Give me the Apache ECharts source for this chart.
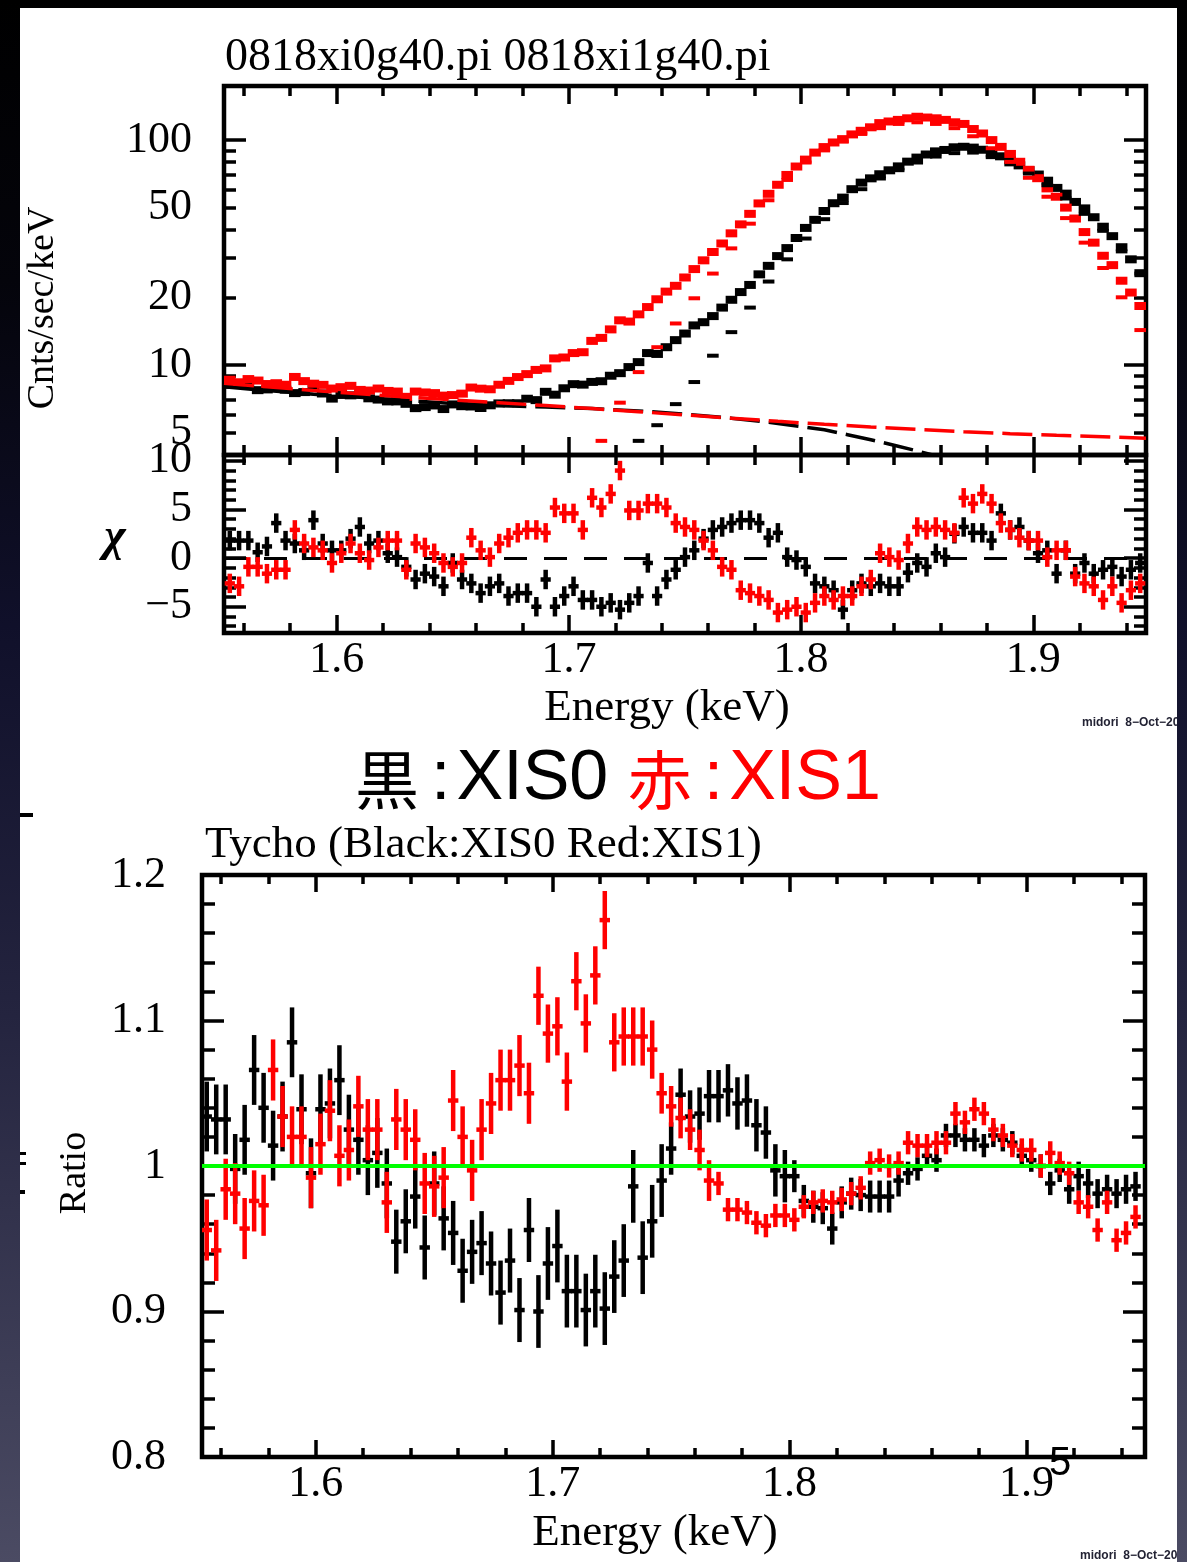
<!DOCTYPE html>
<html><head><meta charset="utf-8">
<script src="https://cdn.jsdelivr.net/npm/echarts@6/dist/echarts.min.js"></script>
<style>
html,body{margin:0;padding:0;}
body{width:1187px;height:1562px;overflow:hidden;position:relative;
 background:linear-gradient(to bottom,#000 0%,#04040b 18%,#10102a 40%,#24243f 65%,#4b4b63 100%);}
#paper{position:absolute;left:20px;top:8px;width:1157px;height:1554px;background:#fff;}
#chart{position:absolute;left:0;top:0;width:1177px;height:1562px;}
</style></head><body><div id="paper"></div><div id="chart"></div>
<script>
// ---------------- data ----------------
const energy = [
 1.554,1.558,1.562,1.566,1.570,1.574,1.578,1.582,1.586,1.590,
 1.594,1.598,1.602,1.606,1.610,1.614,1.618,1.622,1.626,1.630,
 1.634,1.638,1.642,1.646,1.650,1.654,1.658,1.662,1.666,1.670,
 1.674,1.678,1.682,1.686,1.690,1.694,1.698,1.702,1.706,1.710,
 1.714,1.718,1.722,1.726,1.730,1.734,1.738,1.742,1.746,1.750,
 1.754,1.758,1.762,1.766,1.770,1.774,1.778,1.782,1.786,1.790,
 1.794,1.798,1.802,1.806,1.810,1.814,1.818,1.822,1.826,1.830,
 1.834,1.838,1.842,1.846,1.850,1.854,1.858,1.862,1.866,1.870,
 1.874,1.878,1.882,1.886,1.890,1.894,1.898,1.902,1.906,1.910,
 1.914,1.918,1.922,1.926,1.930,1.934,1.938,1.942,1.946];

// XIS0 (black)
const xis0Counts = [
 8.32,8.20,8.10,7.73,7.79,8.05,7.77,7.50,7.58,7.88,
 7.47,7.09,7.36,7.33,7.39,7.11,7.02,6.89,6.89,6.72,
 6.43,6.50,6.61,6.37,6.68,6.56,6.54,6.44,6.62,6.75,
 6.76,6.76,7.08,6.98,7.60,7.38,7.88,8.22,8.18,8.41,
 8.47,8.96,9.20,9.79,10.3,11.3,11.2,12.0,12.9,13.8,
 15.0,15.5,16.5,18.0,19.5,21.1,22.7,25.3,27.6,30.5,
 33.1,36.7,40.7,44.2,48.4,52.4,55.5,60.5,64.7,67.6,
 70.5,73.4,76.4,80.2,83.6,86.3,89.1,90.4,92.9,93.4,
 92.6,90.6,87.2,84.7,81.4,77.2,73.5,70.3,66.0,61.3,
 57.8,53.1,49.7,45.4,41.2,37.4,33.4,29.5,25.6];
const xis0Ratio = [
 1.034,1.032,1.032,0.998,1.018,1.066,1.040,1.014,1.034,1.085,
 1.039,0.995,1.039,1.043,1.059,1.025,1.018,1.004,1.009,0.988,
 0.948,0.962,0.979,0.944,0.988,0.964,0.954,0.928,0.941,0.947,
 0.933,0.913,0.935,0.901,0.956,0.900,0.933,0.945,0.914,0.914,
 0.901,0.914,0.902,0.924,0.935,0.986,0.937,0.962,0.990,1.012,
 1.049,1.034,1.036,1.048,1.048,1.052,1.043,1.045,1.028,1.023,
 0.997,0.993,0.993,0.976,0.972,0.971,0.957,0.975,0.981,0.980,
 0.979,0.979,0.979,0.990,0.995,0.998,1.007,1.004,1.021,1.021,
 1.018,1.018,1.014,1.021,1.018,1.016,1.007,1.004,1.000,0.988,
 0.997,0.984,0.993,0.988,0.981,0.984,0.981,0.984,0.986];
const xis0RatioErr = [
 0.024,0.024,0.024,0.024,0.024,0.024,0.024,0.024,0.024,0.024,
 0.024,0.024,0.024,0.024,0.024,0.024,0.024,0.024,0.024,0.024,
 0.022,0.022,0.022,0.022,0.022,0.022,0.022,0.022,0.022,0.022,
 0.022,0.022,0.022,0.022,0.022,0.025,0.025,0.025,0.025,0.025,
 0.025,0.025,0.025,0.025,0.025,0.025,0.025,0.025,0.025,0.018,
 0.018,0.018,0.018,0.018,0.018,0.018,0.018,0.018,0.018,0.018,
 0.018,0.018,0.011,0.011,0.011,0.011,0.011,0.011,0.011,0.011,
 0.011,0.011,0.011,0.011,0.008,0.008,0.008,0.008,0.008,0.008,
 0.008,0.008,0.008,0.008,0.008,0.008,0.008,0.008,0.008,0.008,
 0.008,0.010,0.010,0.010,0.010,0.010,0.010,0.010,0.010];
const xis0Chi = [
 1.8,1.8,1.8,0.6,1.2,3.6,1.8,1.5,0.8,3.9,
 1.5,0.8,0.8,2.0,3.2,1.5,1.8,0.5,0.1,-0.9,
 -2.2,-1.6,-1.9,-2.9,-0.5,-2.2,-2.6,-3.6,-2.9,-2.6,
 -3.9,-3.6,-3.6,-5.0,-2.2,-5.0,-3.9,-2.9,-4.3,-4.3,
 -5.0,-4.6,-5.3,-4.6,-3.9,-0.5,-3.9,-2.2,-1.2,0.1,
 0.8,2.0,2.9,3.2,3.6,3.9,3.9,3.6,2.1,2.6,
 0.1,-0.2,-0.9,-2.6,-2.9,-3.3,-5.3,-3.3,-2.6,-2.9,
 -2.6,-2.9,-2.9,-1.5,-0.5,-0.9,0.5,0.1,2.5,3.2,
 2.6,2.6,1.8,4.6,2.9,3.2,1.8,0.5,0.8,-1.6,
 0.8,-1.6,-0.5,-1.6,-1.2,-0.9,-1.9,-1.2,-0.5];

// XIS1 (red)
const xis1Counts = [
 8.60,8.38,8.66,8.53,8.23,8.30,8.17,8.85,8.48,8.26,
 8.16,7.86,7.97,8.08,7.75,7.70,7.86,7.67,7.62,7.22,
 7.62,7.55,7.50,7.31,7.35,7.46,7.94,7.85,7.80,8.17,
 8.50,8.84,9.11,9.51,9.66,10.7,10.8,11.3,11.4,12.8,
 13.2,14.4,15.8,15.6,16.8,18.1,19.6,21.2,22.5,24.5,
 26.7,29.2,31.8,34.7,38.5,42.2,47.0,52.3,57.7,63.3,
 70.0,76.3,81.9,88.0,93.1,97.6,101,106,110,114,
 119,121,123,125,127,126,125,123,120,118,
 112,107,100,93.3,86.8,80.1,73.8,67.7,61.0,56.0,
 50.1,44.8,39.0,35.0,30.6,27.8,23.7,21.0,18.3];
const xis1Ratio = [
 0.956,0.942,0.984,0.981,0.957,0.976,0.973,1.066,1.034,1.020,
 1.020,0.992,1.015,1.038,1.007,1.011,1.041,1.025,1.025,0.975,
 1.032,1.025,1.018,0.988,0.986,0.992,1.045,1.020,0.997,1.025,
 1.043,1.059,1.059,1.069,1.050,1.117,1.091,1.096,1.058,1.127,
 1.098,1.131,1.169,1.085,1.089,1.089,1.089,1.080,1.050,1.041,
 1.033,1.025,1.011,0.990,0.988,0.970,0.970,0.968,0.961,0.959,
 0.966,0.966,0.963,0.972,0.975,0.976,0.975,0.977,0.981,0.985,
 1.002,1.004,1.000,1.002,1.016,1.014,1.014,1.016,1.016,1.036,
 1.030,1.039,1.036,1.025,1.021,1.014,1.011,1.011,1.000,1.009,
 1.002,0.995,0.975,0.972,0.956,0.975,0.949,0.954,0.965];
const xis1RatioErr = [
 0.021,0.021,0.021,0.021,0.021,0.021,0.021,0.021,0.021,0.021,
 0.021,0.021,0.021,0.021,0.021,0.021,0.021,0.021,0.021,0.021,
 0.021,0.021,0.021,0.021,0.021,0.021,0.021,0.021,0.021,0.021,
 0.021,0.021,0.021,0.021,0.021,0.020,0.020,0.020,0.020,0.020,
 0.020,0.020,0.020,0.020,0.020,0.020,0.020,0.020,0.014,0.014,
 0.014,0.014,0.014,0.014,0.008,0.008,0.008,0.008,0.008,0.008,
 0.008,0.008,0.008,0.008,0.008,0.008,0.008,0.008,0.008,0.008,
 0.008,0.008,0.008,0.008,0.008,0.008,0.008,0.008,0.008,0.008,
 0.008,0.008,0.008,0.008,0.008,0.008,0.008,0.008,0.008,0.008,
 0.008,0.008,0.008,0.008,0.008,0.008,0.008,0.008,0.008];
const xis1Chi = [
 -2.6,-2.9,-0.9,-0.9,-1.6,-1.2,-1.2,2.9,1.5,1.1,
 0.8,-0.5,0.5,1.5,0.5,-0.2,1.1,1.8,1.8,-1.2,
 1.5,1.1,0.5,-0.5,-0.9,-0.5,2.1,0.8,0.1,1.5,
 2.1,2.6,2.9,2.9,2.6,5.2,4.6,4.6,2.9,6.2,
 5.2,6.6,9.0,4.9,4.9,5.6,5.6,5.2,3.6,3.2,
 2.9,1.8,0.8,-0.9,-1.2,-3.3,-3.6,-3.9,-4.3,-5.6,
 -5.3,-5.0,-5.6,-4.6,-3.9,-4.3,-3.9,-3.9,-2.9,-2.2,
 0.5,0.1,-0.2,1.5,3.2,2.9,3.2,2.9,2.6,6.2,
 5.6,6.6,5.6,3.6,2.9,2.1,1.8,1.8,0.1,0.8,
 0.8,-1.9,-2.6,-2.9,-4.3,-2.9,-4.6,-3.3,-2.6];

// model components (top panel)
const xis0ContE = [1.5515,1.57,1.59,1.61,1.63,1.65,1.67,1.69,1.71,1.73,1.75,1.77,1.79,1.81,1.82,1.83,1.84,1.85,1.86];
const xis0Cont  = [8.0,7.7,7.42,7.18,6.95,6.75,6.6,6.5,6.4,6.25,6.05,5.8,5.5,5.15,4.9,4.65,4.4,4.15,3.9];
const xis1ContE = [1.5515,1.57,1.59,1.61,1.63,1.65,1.67,1.69,1.71,1.73,1.75,1.77,1.79,1.81,1.83,1.85,1.87,1.89,1.91,1.93,1.9485];
const xis1Cont  = [8.3,8.0,7.7,7.45,7.2,7.0,6.8,6.6,6.4,6.2,6.0,5.8,5.62,5.45,5.3,5.17,5.05,4.95,4.87,4.8,4.72];
const compE = [1.690,1.698,1.706,1.714,1.722,1.730,1.738,1.746,1.754,1.762,1.770,1.778,1.786,1.794,1.802,1.810,1.818,
 1.826,1.834,1.842,1.850,1.858,1.866,1.874,1.882,1.890,1.898,1.906,1.914,1.922,1.930,1.938,1.946];
const xis0Line = [2.0,2.3,2.7,3.1,3.95,4.6,5.4,6.7,8.4,11.0,14.0,18.0,23.5,29.5,36.5,44.5,52.5,
 60.5,67.5,73.5,79.5,84.5,87.5,88,84,78,71,63,55,47,39.5,32,25.5];
const xis1Line = [2.5,3.0,3.7,4.6,6.8,9.3,12.0,15.3,19.8,25.5,33,42.5,54,66.5,79.5,90,98.5,
 106.5,113,118,120,118,113,104,92,80,68,56,45,35,27,20,14.3];

// ticks & labels
const xMajor = [1.6,1.7,1.8,1.9];
const xMinor = [1.56,1.58,1.62,1.64,1.66,1.68,1.72,1.74,1.76,1.78,1.82,1.84,1.86,1.88,1.92,1.94];
const logMajor = [10,100];
const logMinor = [4,5,6,7,8,9,20,30,40,50,60,70,80,90];
const logLabels = [5,10,20,50,100];
const chiMajor = [-5,0,5,10];
const chiMinor = [-7,-6,-4,-3,-2,-1,1,2,3,4,6,7,8,9];
const ratioMajor = [0.8,0.9,1,1.1,1.2];
const ratioMinor = [0.82,0.84,0.86,0.88,0.92,0.94,0.96,0.98,1.02,1.04,1.06,1.08,1.12,1.14,1.16,1.18];

const titleTop = '0818xi0g40.pi 0818xi1g40.pi';
const titleBottom = 'Tycho (Black:XIS0 Red:XIS1)';
const xName = 'Energy (keV)';
const yNameTop = 'Cnts/sec/keV';
const yNameChi = 'χ';
const yNameRatio = 'Ratio';
const stamp = 'midori  8−Oct−2008 15:42';
const pageNo = '5';

const BIN_HALF = 0.0022;  // half bin width (keV)
const CHI_ERR = 1;        // residual error bars are ±1σ
const BLACK = '#000000', RED = '#ff0000', GREEN = '#00ff00';
const SERIF = 'Liberation Serif';

// ---------------- helpers ----------------
const tickStyle = {color: '#000', width: 3.5};
function axisSet(kind, gi, type, min, max, majors, minors, majLen, minLen, label) {
  const sides = kind === 'x' ? ['bottom', 'top'] : ['left', 'right'];
  const out = [];
  sides.forEach((pos, si) => {
    [[majors, majLen], [minors, minLen]].forEach(([vals, len], mi) => {
      const ax = {
        type: type, gridIndex: gi, position: pos, min: min, max: max,
        axisLine: {show: false, onZero: false},
        splitLine: {show: false},
        axisTick: {show: true, inside: true, length: len, customValues: vals, lineStyle: tickStyle},
        axisLabel: {show: false}
      };
      if (type === 'log') ax.logBase = 10;
      if (si === 0 && mi === 0 && label) ax.axisLabel = Object.assign({show: true}, label);
      out.push(ax);
    });
  });
  return out;
}
function crossSeries(name, gi, data, color, lw, hw, z) {
  return {
    type: 'custom', name: name, xAxisIndex: gi * 4, yAxisIndex: gi * 4, z: z, clip: true,
    data: data, encode: {x: 0, y: 1}, silent: true,
    renderItem: function (params, api) {
      const e = api.value(0), v = api.value(1), err = api.value(2);
      const lo = api.coord([e, v - err]), hi = api.coord([e, v + err]);
      const l = api.coord([e - hw, v]), r = api.coord([e + hw, v]);
      const style = {stroke: color, lineWidth: lw};
      return {type: 'group', children: [
        {type: 'line', shape: {x1: lo[0], y1: lo[1], x2: hi[0], y2: hi[1]}, style: style},
        {type: 'line', shape: {x1: l[0], y1: l[1], x2: r[0], y2: r[1]}, style: style}
      ]};
    }
  };
}
function dashSeries(name, gi, xs, ys, color, z) {
  return {
    type: 'custom', name: name, xAxisIndex: gi * 4, yAxisIndex: gi * 4, z: z, clip: true, silent: true,
    data: xs.map((e, i) => [e, ys[i]]), encode: {x: 0, y: 1},
    renderItem: function (params, api) {
      const e = api.value(0), v = api.value(1);
      const l = api.coord([e - 0.0025, v]), r = api.coord([e + 0.0025, v]);
      return {type: 'line', shape: {x1: l[0], y1: l[1], x2: r[0], y2: r[1]}, style: {stroke: color, lineWidth: 4}};
    }
  };
}
function contSeries(name, gi, xs, ys, color, z) {
  return {
    type: 'line', name: name, xAxisIndex: gi * 4, yAxisIndex: gi * 4, z: z, silent: true,
    showSymbol: false, symbol: 'none', clip: true,
    data: xs.map((e, i) => [e, ys[i]]),
    lineStyle: {color: color, width: 3.5, type: [30, 9]}
  };
}

const topBlack = energy.map((e, i) => [e, xis0Counts[i], xis0Counts[i] * xis0RatioErr[i] / xis0Ratio[i]]);
const topRed   = energy.map((e, i) => [e, xis1Counts[i], xis1Counts[i] * xis1RatioErr[i] / xis1Ratio[i]]);
const chiBlack = energy.map((e, i) => [e, xis0Chi[i], CHI_ERR]);
const chiRed   = energy.map((e, i) => [e, xis1Chi[i], CHI_ERR]);
const ratBlack = energy.map((e, i) => [e, xis0Ratio[i], xis0RatioErr[i]]);
const ratRed   = energy.map((e, i) => [e, xis1Ratio[i], xis1RatioErr[i]]);

const lab = {fontFamily: SERIF, fontSize: 44, color: '#000'};
const minusFmt = v => (v < 0 ? '\u2212' + Math.abs(v) : String(v));

const gridBase = {show: true, borderColor: '#000', borderWidth: 4.5, backgroundColor: 'transparent', containLabel: false};

const option = {
  animation: false,
  backgroundColor: 'transparent',
  grid: [
    Object.assign({left: 224, top: 86, width: 922, height: 369}, gridBase),
    Object.assign({left: 224, top: 455, width: 922, height: 178}, gridBase),
    Object.assign({left: 202, top: 875, width: 943, height: 582}, gridBase)
  ],
  xAxis: [].concat(
    axisSet('x', 0, 'value', 1.5515, 1.9485, xMajor, xMinor, 18, 10, null),
    axisSet('x', 1, 'value', 1.5515, 1.9485, xMajor, xMinor, 18, 10,
      Object.assign({customValues: xMajor, margin: 5}, lab)),
    axisSet('x', 2, 'value', 1.552, 1.950, xMajor, xMinor, 17, 9,
      Object.assign({customValues: xMajor, margin: 5}, lab))
  ),
  yAxis: [].concat(
    axisSet('y', 0, 'log', 3.98, 174, logMajor, logMinor, 22, 12,
      Object.assign({customValues: logLabels, margin: 32}, lab)),
    axisSet('y', 1, 'value', -7.7, 10.6, chiMajor, chiMinor, 22, 12,
      Object.assign({customValues: chiMajor, margin: 32, formatter: minusFmt}, lab)),
    axisSet('y', 2, 'value', 0.8, 1.2, ratioMajor, ratioMinor, 22, 13,
      Object.assign({customValues: ratioMajor, margin: 36}, lab))
  ),
  series: [
    crossSeries('XIS0', 0, topBlack, BLACK, 8, 0.0025, 3),
    crossSeries('XIS1', 0, topRed, RED, 8, 0.0025, 4),
    contSeries('XIS0 continuum', 0, xis0ContE, xis0Cont, BLACK, 5),
    contSeries('XIS1 continuum', 0, xis1ContE, xis1Cont, RED, 6),
    dashSeries('XIS0 line', 0, compE, xis0Line, BLACK, 5),
    dashSeries('XIS1 line', 0, compE, xis1Line, RED, 6),
    {type: 'line', name: 'zero', xAxisIndex: 4, yAxisIndex: 4, data: [], z: 1, silent: true,
     markLine: {silent: true, symbol: 'none', z: 1, label: {show: false},
       lineStyle: {color: '#000', width: 3, type: [23, 17]}, data: [{yAxis: 0}]}},
    crossSeries('XIS0 chi', 1, chiBlack, BLACK, 4.5, BIN_HALF, 8),
    crossSeries('XIS1 chi', 1, chiRed, RED, 4.5, BIN_HALF, 9),
    crossSeries('XIS0 ratio', 2, ratBlack, BLACK, 4.5, BIN_HALF, 8),
    crossSeries('XIS1 ratio', 2, ratRed, RED, 4.5, BIN_HALF, 9),
    {type: 'line', name: 'unity', xAxisIndex: 8, yAxisIndex: 8, data: [], z: 20, silent: true,
     markLine: {silent: true, symbol: 'none', z: 20, label: {show: false},
       lineStyle: {color: GREEN, width: 4, type: 'solid'}, data: [{yAxis: 1}]}}
  ],
  graphic: [
    {type: 'text', x: 225, y: 58, style: {text: titleTop, font: '46px "Liberation Serif"', fill: '#000', align: 'left', verticalAlign: 'middle'}},
    {type: 'text', x: 667, y: 708, style: {text: xName, font: '45px "Liberation Serif"', fill: '#000', align: 'center', verticalAlign: 'middle'}},
    {type: 'text', x: 43, y: 308, rotation: Math.PI / 2, style: {text: yNameTop, font: '38px "Liberation Serif"', fill: '#000', align: 'center', verticalAlign: 'middle'}},
    {type: 'text', x: 115, y: 538, style: {text: yNameChi, font: 'italic bold 46px "Liberation Serif"', fill: '#000', align: 'center', verticalAlign: 'middle'}},
    {type: 'text', x: 618, y: 780, style: {
      text: '{k|黒}{c|:}{l|XIS0} {rk|赤}{rc|:}{rl|XIS1}',
      font: '70px "Liberation Sans"', fill: '#000', align: 'center', verticalAlign: 'middle',
      rich: {
        k: {fontFamily: 'Noto Sans CJK JP', fontSize: 64, fill: '#000'},
        c: {fontFamily: 'Liberation Sans', fontSize: 70, fill: '#000', padding: [0, 6, 0, 12]},
        l: {fontFamily: 'Liberation Sans', fontSize: 70, fill: '#000'},
        rk: {fontFamily: 'Noto Sans CJK JP', fontSize: 64, fill: RED},
        rc: {fontFamily: 'Liberation Sans', fontSize: 70, fill: RED, padding: [0, 6, 0, 12]},
        rl: {fontFamily: 'Liberation Sans', fontSize: 70, fill: RED}
      }}},
    {type: 'text', x: 205, y: 845, style: {text: titleBottom, font: '45px "Liberation Serif"', fill: '#000', align: 'left', verticalAlign: 'middle'}},
    {type: 'text', x: 75, y: 1173, rotation: Math.PI / 2, style: {text: yNameRatio, font: '38px "Liberation Serif"', fill: '#000', align: 'center', verticalAlign: 'middle'}},
    {type: 'text', x: 655, y: 1533, style: {text: xName, font: '45px "Liberation Serif"', fill: '#000', align: 'center', verticalAlign: 'middle'}},
    {type: 'text', x: 1082, y: 723, style: {text: stamp, font: 'bold 12px "Liberation Sans"', fill: '#223', align: 'left', verticalAlign: 'middle'}},
    {type: 'text', x: 1080, y: 1556, style: {text: stamp, font: 'bold 12px "Liberation Sans"', fill: '#223', align: 'left', verticalAlign: 'middle'}},
    {type: 'text', x: 1060, y: 1464, z: 100, style: {text: pageNo, font: '40px "Liberation Sans"', fill: '#000', align: 'center', verticalAlign: 'middle'}},
    {type: 'rect', shape: {x: 20, y: 813, width: 13, height: 4}, style: {fill: '#000'}},
    {type: 'rect', shape: {x: 20, y: 1152, width: 6, height: 3}, style: {fill: '#000'}},
    {type: 'rect', shape: {x: 20, y: 1162, width: 6, height: 3}, style: {fill: '#000'}},
    {type: 'rect', shape: {x: 20, y: 1190, width: 5, height: 4}, style: {fill: '#000'}}
  ]
};

const chart = echarts.init(document.getElementById('chart'), null, {renderer: 'canvas'});
chart.setOption(option);
</script></body></html>
